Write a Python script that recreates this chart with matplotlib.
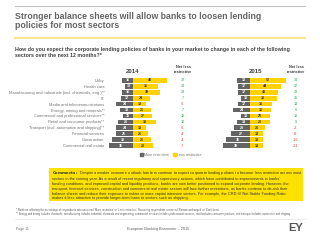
import matplotlib.pyplot as plt
from matplotlib.lines import Line2D
from matplotlib.patches import Rectangle

plt.rcParams['font.family'] = ['Liberation Sans', 'DejaVu Sans']

# Data (percentage of respondents)
sectors = [
    'Utility',
    'Health care',
    'Manufacturing and industrials (incl. chemicals, eng.)**',
    'IT',
    'Media and telecommunications',
    'Energy, mining and minerals**',
    'Commercial and professional services**',
    'Retail and consumer products**',
    'Transport (incl. automotive and shipping)**',
    'Financial services',
    'Construction',
    'Commercial real estate',
]
more_2014 = [16, 12, 16, 17, 24, 19, 15, 21, 24, 25, 30, 35]
less_2014 = [48, 36, 39, 24, 18, 26, 27, 33, 18, 21, 26, 28]
net_2014 = [32, 24, 23, 7, -6, 7, 12, 12, -6, -4, -4, -7]
more_2015 = [18, 17, 17, 13, 17, 24, 13, 19, 23, 27, 35, 39]
less_2015 = [52, 44, 40, 38, 31, 30, 29, 28, 21, 19, 19, 18]
net_2015 = [34, 27, 23, 25, 14, 6, 16, 9, -2, -8, -16, -21]

DARK = '#646464'
YELLOW = '#FFD200'
GREY_TXT = '#646464'
GREEN = '#2DA55A'
RED = '#E03C31'

W, H = 320, 240
fig = plt.figure(figsize=(3.2, 2.4), dpi=100)


def fx(x):
    return x / W


def fy(y):
    return 1 - y / H


# Header rules and title
fig.add_artist(Line2D([fx(15), fx(305)], [fy(6), fy(6)], color='#b0b0b0', lw=0.6))
fig.text(fx(15), fy(21), 'Stronger balance sheets will allow banks to loosen lending\npolicies for most sectors',
         fontsize=6.35, fontweight='bold', color=GREY_TXT, va='center', ha='left', linespacing=1.08)
fig.add_artist(Line2D([fx(15), fx(305)], [fy(38), fy(38)], color='#F7E58A', lw=1.4))
fig.text(fx(15), fy(52.5), 'How do you expect the corporate lending policies of banks in your market to change in each of the following\n'
         'sectors over the next 12 months?*', fontsize=3.75, fontweight='bold', color='#404040',
         va='center', ha='left', linespacing=1.15)

# Bar panels
scale = 0.7  # px per percentage point
y_top, y_bot = 77.5, 148.5


def panel(left_px, center_px, more, less, net, year, year_x, net_x, show_labels):
    right_px = left_px + 80
    ax = fig.add_axes([fx(left_px), fy(y_bot), fx(right_px - left_px), (y_bot - y_top) / H])
    rows = list(range(len(sectors)))
    ax.barh(rows, [-m for m in more], height=0.78, color=DARK, lw=0)
    ax.barh(rows, less, height=0.78, color=YELLOW, lw=0)
    ax.set_xlim(-(center_px - left_px) / scale, (right_px - center_px) / scale)
    ax.set_ylim(len(sectors) - 0.5, -0.5)
    for s in ax.spines.values():
        s.set_visible(False)
    ax.set_xticks([])
    if show_labels:
        ax.set_yticks(rows)
        ax.set_yticklabels(sectors, fontsize=2.85, color='#707070')
        ax.tick_params(axis='y', length=0, pad=1.2)
    else:
        ax.set_yticks([])
    for i in rows:
        ax.text(-more[i] / 2, i, str(more[i]), color='white', fontsize=2.6, fontweight='bold',
                ha='center', va='center')
        ax.text(less[i] / 2, i, str(less[i]), color='#333333', fontsize=2.6, fontweight='bold',
                ha='center', va='center')
        ax.text((net_x - center_px) / scale, i, str(net[i]), color=GREEN if net[i] > 0 else RED,
                fontsize=2.7, ha='center', va='center', clip_on=False)
    fig.text(fx(year_x), fy(71.5), year, fontsize=4.3, fontweight='bold', color='#404040',
             ha='center', va='center')
    fig.text(fx(net_x), fy(69.5), 'Net less\nrestrictive', fontsize=2.8, fontweight='bold',
             color='#404040', ha='center', va='center', linespacing=1.1)
    return ax


panel(106, 133, more_2014, less_2014, net_2014, '2014', 133, 183, True)
panel(215, 250, more_2015, less_2015, net_2015, '2015', 256, 296, False)

# Legend
fig.legend(handles=[Rectangle((0, 0), 1, 1, color=DARK), Rectangle((0, 0), 1, 1, color=YELLOW)],
           labels=['More restrictive', 'Less restrictive'], loc='center', ncol=2,
           bbox_to_anchor=(fx(171), fy(155)), frameon=False, fontsize=2.6, handlelength=0.7,
           handleheight=0.7, handletextpad=0.4, columnspacing=1.2, labelcolor='#707070')

# Comments box
fig.add_artist(Rectangle((fx(49), fy(201)), fx(254), (201 - 168) / H, color='#FFE100', lw=0))
comments = ("Despite a weaker economic outlook, bankers continue to expect corporate lending policies to become less restrictive across most\n"
            "sectors in the coming year. As a result of recent regulatory and supervisory actions, which have contributed to improvements in banks'\n"
            "funding conditions, and improved capital and liquidity positions, banks are now better positioned to expand corporate lending. However, the\n"
            "transport, financial services, construction and commercial real estate sectors will face further restrictions, as banks continue to de-risk their\n"
            "balance sheets and reduce their exposure to riskier or more capital intensive sectors. For example, the CRD IV Net Stable Funding Ratio\n"
            "makes it less attractive to provide longer-term loans to sectors such as shipping.")
fig.text(fx(52), fy(184.5), r'$\bf{Comments:}$ ' + comments, fontsize=2.75,
         color='#333333', ha='left', va='center', linespacing=1.25)

# Footnotes
fig.text(fx(16), fy(212), "* Numbers reflecting the percentage of respondents who answered 'More restrictive' or 'Less restrictive'. Remaining respondents answered 'Remain unchanged' or 'Don't know'.\n"
         "** Energy and mining includes chemicals; manufacturing includes industrial, chemicals and engineering; commercial services includes professional services; retail includes consumer products; and transport includes automotive and shipping.",
         fontsize=1.9, color='#606060', ha='left', va='center', linespacing=1.3)
fig.add_artist(Line2D([fx(15), fx(305)], [fy(219), fy(219)], color='#d8d8d8', lw=0.4))

# Footer
fig.text(fx(16), fy(229), 'Page 11', fontsize=2.5, color='#707070', ha='left', va='center')
fig.text(fx(158), fy(229), 'European Banking Barometer \u2013 2015', fontsize=2.7, color='#606060',
         ha='center', va='center')
fig.text(fx(303), fy(228), 'EY', fontsize=8, fontweight='bold', color='#555555', ha='right', va='center')

fig.savefig('out.png', dpi=100)
